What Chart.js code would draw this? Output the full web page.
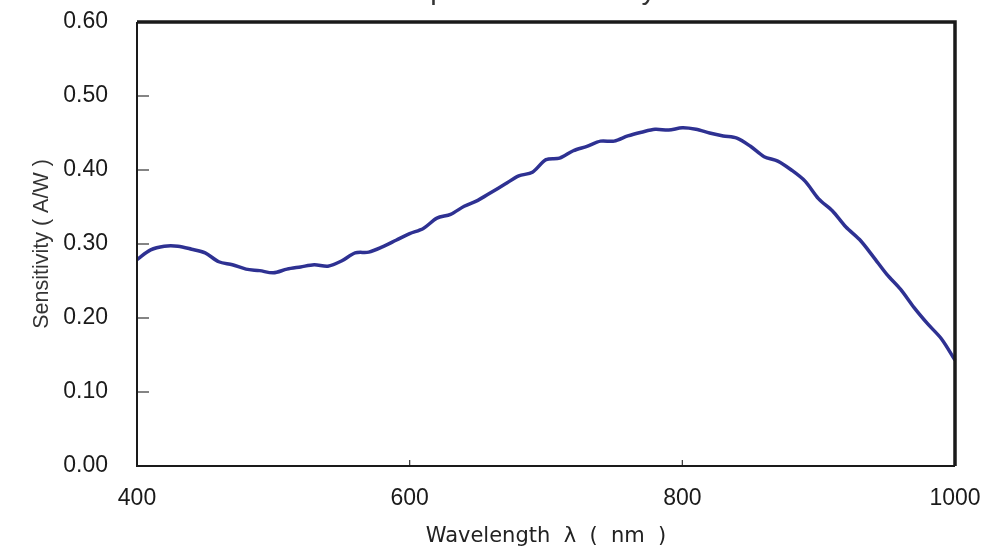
<!DOCTYPE html>
<html>
<head>
<meta charset="utf-8">
<script src="https://cdn.jsdelivr.net/npm/chart.js@4"></script>
<style>
html,body{margin:0;padding:0;background:#fff;}
#wrap{width:995px;height:549px;position:relative;}
</style>
</head>
<body>
<div id="wrap"><canvas id="c" width="995" height="549"></canvas></div>
<script>
const wavelengths = [400,410,420,430,440,450,460,470,480,490,500,510,520,530,540,550,560,570,580,590,600,610,620,630,640,650,660,670,680,690,700,710,720,730,740,750,760,770,780,790,800,810,820,830,840,850,860,870,880,890,900,910,920,930,940,950,960,970,980,990,1000];
const sensitivity = [0.279,0.292,0.297,0.297,0.293,0.288,0.276,0.272,0.266,0.264,0.261,0.266,0.269,0.272,0.270,0.277,0.288,0.289,0.296,0.305,0.314,0.321,0.335,0.340,0.351,0.359,0.370,0.381,0.392,0.397,0.414,0.416,0.426,0.432,0.439,0.439,0.446,0.451,0.455,0.454,0.457,0.455,0.450,0.446,0.443,0.432,0.418,0.412,0.400,0.385,0.361,0.345,0.323,0.306,0.283,0.259,0.239,0.214,0.192,0.172,0.143];
const xTicks = [400,600,800,1000];
const yTicks = [0,0.1,0.2,0.3,0.4,0.5,0.6];
const titleText = "Spectral Sensitivity";
const xTitle = "Wavelength  \u03BB  (  nm  )";
const yTitle = "Sensitivity ( A/W )";

const framePlugin = {
  id: 'frame',
  afterDatasetsDraw(chart) {
    const {ctx, chartArea: a, scales: {x, y}} = chart;
    ctx.save();
    // inward ticks
    ctx.strokeStyle = '#333';
    ctx.lineWidth = 1.2;
    yTicks.forEach(v => {
      const py = y.getPixelForValue(v);
      ctx.beginPath(); ctx.moveTo(a.left, py); ctx.lineTo(a.left + 12, py); ctx.stroke();
    });
    xTicks.forEach(v => {
      const px = x.getPixelForValue(v);
      ctx.beginPath(); ctx.moveTo(px, a.bottom); ctx.lineTo(px, a.bottom - 6); ctx.stroke();
    });
    // frame
    ctx.strokeStyle = '#1a1a1a';
    ctx.lineWidth = 2;
    ctx.beginPath();
    ctx.moveTo(a.left, a.top); ctx.lineTo(a.left, a.bottom); ctx.lineTo(a.right, a.bottom);
    ctx.stroke();
    ctx.lineWidth = 3.5;
    ctx.beginPath();
    ctx.moveTo(a.left, a.top); ctx.lineTo(a.right, a.top); ctx.lineTo(a.right, a.bottom);
    ctx.stroke();
    // clipped title (only descenders visible, as in reference)
    ctx.fillStyle = '#333';
    ctx.font = '29px "Liberation Sans", Arial, sans-serif';
    ctx.textBaseline = 'alphabetic';
    ctx.textAlign = 'left';
    ctx.fillText(titleText, 411, -1);
    ctx.restore();
  }
};

new Chart(document.getElementById('c'), {
  type: 'line',
  data: {
    labels: wavelengths,
    datasets: [{
      data: wavelengths.map((w, i) => ({x: w, y: sensitivity[i]})),
      borderColor: '#2e3192',
      borderWidth: 3.5,
      pointRadius: 0,
      tension: 0.3,
      fill: false,
      clip: 6
    }]
  },
  options: {
    responsive: false,
    animation: false,
    events: [],
    layout: {padding: {left: 0, right: 40, top: 22, bottom: 0}},
    plugins: {legend: {display: false}, tooltip: {enabled: false}, title: {display: false}},
    scales: {
      x: {
        type: 'linear', min: 400, max: 1000,
        afterBuildTicks(s) { s.ticks = xTicks.map(v => ({value: v})); },
        afterFit(s) { s.height = 83; s.paddingLeft = 0; s.paddingRight = 0; },
        grid: {display: false, drawTicks: false},
        border: {display: false},
        ticks: {
          color: '#1a1a1a', padding: 19,
          font: {family: '"Liberation Sans", Arial, sans-serif', size: 23},
          maxRotation: 0,
          callback: v => String(v)
        },
        title: {
          display: true, text: xTitle, color: '#222', padding: {top: 10, bottom: 0},
          font: {family: '"DejaVu Sans", sans-serif', size: 21}
        }
      },
      y: {
        min: 0, max: 0.6,
        afterBuildTicks(s) { s.ticks = yTicks.map(v => ({value: v})); },
        afterFit(s) { s.width = 137; s.paddingTop = 0; s.paddingBottom = 0; },
        grid: {display: false, drawTicks: false},
        border: {display: false},
        ticks: {
          color: '#1a1a1a', padding: 29,
          font: {family: '"Liberation Sans", Arial, sans-serif', size: 23},
          callback: v => v.toFixed(2)
        },
        title: {
          display: true, text: yTitle, color: '#333', padding: {top: 29, bottom: 0},
          font: {family: '"Liberation Sans", Arial, sans-serif', size: 21.5}
        }
      }
    }
  },
  plugins: [framePlugin]
});
</script>
</body>
</html>
